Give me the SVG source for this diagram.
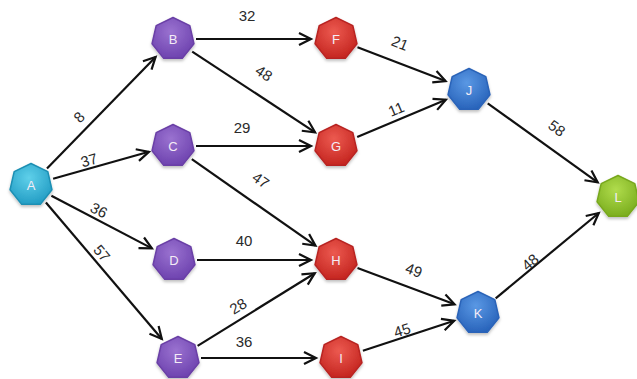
<svg xmlns="http://www.w3.org/2000/svg" xmlns:xlink="http://www.w3.org/1999/xlink" width="637" height="379" viewBox="0 0 637 379">
<style>
.edge{stroke:#111;stroke-width:2.2;fill:none;marker-end:url(#arr)}
.elbl{font-family:"Liberation Sans",Arial,sans-serif;font-size:15px;fill:#2a2a2a;text-anchor:middle;dominant-baseline:central}
.nlbl{font-family:"Liberation Sans",Arial,sans-serif;font-size:13px;fill:#f4ecf6;text-anchor:middle;dominant-baseline:central}
.cyan{fill:url(#gCyan);stroke:#1c8fb3}
.purple{fill:url(#gPurple);stroke:#6a3fa6}
.red{fill:url(#gRed);stroke:#b82420}
.blue{fill:url(#gBlue);stroke:#2a63b8}
.green{fill:url(#gGreen);stroke:#78a81e}
.hept{stroke-width:1.5;stroke-linejoin:round;filter:url(#shadow)}
</style>
<defs>
<marker id="arr" markerUnits="userSpaceOnUse" markerWidth="16" markerHeight="16" refX="13" refY="7" orient="auto" viewBox="0 0 16 14">
<path d="M1,1 L13,7 L1,13" fill="none" stroke="#111" stroke-width="2.2" stroke-linejoin="miter"/>
</marker>
<filter id="shadow" x="-30%" y="-30%" width="160%" height="170%"><feDropShadow dx="0" dy="2" stdDeviation="1.5" flood-color="#000" flood-opacity="0.25"/></filter>
<radialGradient id="gCyan" cx="0.45" cy="0.35" r="0.7"><stop offset="0" stop-color="#5fd0ea"/><stop offset="1" stop-color="#1f9ac2"/></radialGradient>
<radialGradient id="gPurple" cx="0.45" cy="0.35" r="0.7"><stop offset="0" stop-color="#9a72d0"/><stop offset="1" stop-color="#6b40ad"/></radialGradient>
<radialGradient id="gRed" cx="0.45" cy="0.35" r="0.7"><stop offset="0" stop-color="#ec5a50"/><stop offset="1" stop-color="#c2221d"/></radialGradient>
<radialGradient id="gBlue" cx="0.45" cy="0.35" r="0.7"><stop offset="0" stop-color="#5a98e4"/><stop offset="1" stop-color="#2560b8"/></radialGradient>
<radialGradient id="gGreen" cx="0.45" cy="0.35" r="0.7"><stop offset="0" stop-color="#b0dc4c"/><stop offset="1" stop-color="#78ab1c"/></radialGradient>
<polygon id="hept" points="0,-21.5 16.81,-13.41 20.96,4.78 9.33,19.37 -9.33,19.37 -20.96,4.78 -16.81,-13.41"/>
</defs>
<rect width="637" height="379" fill="#fff"/>
<g id="connectors">
<line class="edge" x1="47" y1="168.5" x2="155.6" y2="56.9"/>
<line class="edge" x1="53.1" y1="178.8" x2="148.9" y2="151.8"/>
<line class="edge" x1="51.4" y1="195.7" x2="151.9" y2="248.4"/>
<line class="edge" x1="45.9" y1="202.5" x2="161.8" y2="339"/>
<line class="edge" x1="196" y1="39" x2="311" y2="39"/>
<line class="edge" x1="192.2" y1="51.6" x2="315.1" y2="132.3"/>
<line class="edge" x1="196" y1="146" x2="311" y2="146"/>
<line class="edge" x1="191.8" y1="159.2" x2="315.5" y2="245.7"/>
<line class="edge" x1="197" y1="260" x2="311" y2="260"/>
<line class="edge" x1="197.6" y1="345.9" x2="314.8" y2="273.2"/>
<line class="edge" x1="201" y1="358" x2="316" y2="358"/>
<line class="edge" x1="357.5" y1="47.2" x2="445.6" y2="81"/>
<line class="edge" x1="357.2" y1="137.1" x2="445.9" y2="99.7"/>
<line class="edge" x1="357.5" y1="268" x2="454.6" y2="304.3"/>
<line class="edge" x1="362.9" y1="350.8" x2="454.2" y2="320.8"/>
<line class="edge" x1="487.7" y1="103.4" x2="597.7" y2="182.4"/>
<line class="edge" x1="495.7" y1="298.3" x2="598.8" y2="213"/>
<text class="elbl" transform="translate(79,117) rotate(-46)">8</text>
<text class="elbl" transform="translate(89,160) rotate(-16)">37</text>
<text class="elbl" transform="translate(99,210) rotate(28)">36</text>
<text class="elbl" transform="translate(102,253) rotate(50)">57</text>
<text class="elbl" x="247" y="15">32</text>
<text class="elbl" transform="translate(264,73) rotate(34)">48</text>
<text class="elbl" x="242" y="127">29</text>
<text class="elbl" transform="translate(261,180) rotate(35)">47</text>
<text class="elbl" x="244" y="240">40</text>
<text class="elbl" transform="translate(238,306) rotate(-32)">28</text>
<text class="elbl" x="244" y="341">36</text>
<text class="elbl" transform="translate(400,43) rotate(22)">21</text>
<text class="elbl" transform="translate(396,109) rotate(-23)">11</text>
<text class="elbl" transform="translate(414,270) rotate(20)">49</text>
<text class="elbl" transform="translate(402,330) rotate(-18)">45</text>
<text class="elbl" transform="translate(557,128) rotate(36)">58</text>
<text class="elbl" transform="translate(530,262) rotate(-40)">48</text>
</g>
<g id="node-A"><use xlink:href="#hept" class="hept cyan" x="31" y="185"/><text class="nlbl" x="31" y="185">A</text></g>
<g id="node-B"><use xlink:href="#hept" class="hept purple" x="173" y="39"/><text class="nlbl" x="173" y="39">B</text></g>
<g id="node-C"><use xlink:href="#hept" class="hept purple" x="173" y="146"/><text class="nlbl" x="173" y="146">C</text></g>
<g id="node-D"><use xlink:href="#hept" class="hept purple" x="174" y="260"/><text class="nlbl" x="174" y="260">D</text></g>
<g id="node-E"><use xlink:href="#hept" class="hept purple" x="178" y="358"/><text class="nlbl" x="178" y="358">E</text></g>
<g id="node-F"><use xlink:href="#hept" class="hept red" x="336" y="39"/><text class="nlbl" x="336" y="39">F</text></g>
<g id="node-G"><use xlink:href="#hept" class="hept red" x="336" y="146"/><text class="nlbl" x="336" y="146">G</text></g>
<g id="node-H"><use xlink:href="#hept" class="hept red" x="336" y="260"/><text class="nlbl" x="336" y="260">H</text></g>
<g id="node-I"><use xlink:href="#hept" class="hept red" x="341" y="358"/><text class="nlbl" x="341" y="358">I</text></g>
<g id="node-J"><use xlink:href="#hept" class="hept blue" x="469" y="90"/><text class="nlbl" x="469" y="90">J</text></g>
<g id="node-K"><use xlink:href="#hept" class="hept blue" x="478" y="313"/><text class="nlbl" x="478" y="313">K</text></g>
<g id="node-L"><use xlink:href="#hept" class="hept green" x="618" y="197"/><text class="nlbl" x="618" y="197">L</text></g>
</svg>
